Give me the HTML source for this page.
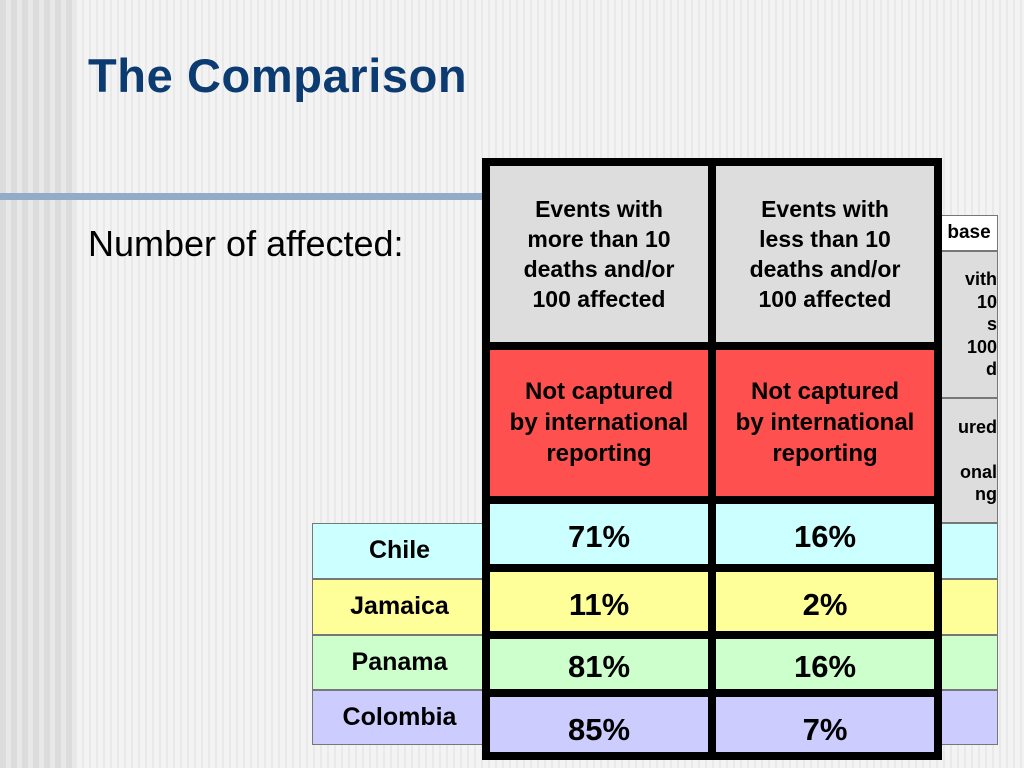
<!DOCTYPE html>
<html><head><meta charset="utf-8"><style>
body{margin:0;width:1024px;height:768px;overflow:hidden;position:relative;font-family:"Liberation Sans",sans-serif;
background:repeating-linear-gradient(90deg,#f3f3f3 0,#f3f3f3 5px,#e9e9e9 5px,#e9e9e9 7px);}
.a{position:absolute;box-sizing:border-box;}
.c{display:flex;align-items:center;justify-content:center;text-align:center;font-weight:bold;color:#000;}
</style></head><body>
<div class="a" style="left:0;top:0;width:75px;height:768px;background:repeating-linear-gradient(90deg,#dcdcdc 0,#dcdcdc 6px,#e8e8e8 6px,#e8e8e8 11px);"></div>
<div class="a" style="left:88px;top:48px;font-size:47px;font-weight:bold;color:#0b3b70;letter-spacing:0.6px;">The Comparison</div>
<div class="a" style="left:0;top:193px;width:490px;height:7px;background:#92acc8;"></div>
<div class="a" style="left:88px;top:223px;font-size:36px;color:#000;">Number of affected:</div>

<div id="back"></div>
<div id="front"></div>

<script>
const countries=["Chile","Jamaica","Panama","Colombia"];
const moreThan10=["71%","11%","81%","85%"];
const lessThan10=["16%","2%","16%","7%"];
const rowColors=["#ccffff","#ffff99","#ccffcc","#ccccff"];

const back=document.getElementById('back');
const front=document.getElementById('front');
function box(parent,x,y,w,h,bg,html,fs,name){
  const d=document.createElement('div');
  d.className='a c';
  d.style.cssText=`left:${x}px;top:${y}px;width:${w}px;height:${h}px;background:${bg};font-size:${fs}px;line-height:1.25;`;
  d.innerHTML=html;
  
  
  parent.appendChild(d);return d;
}
// back table right header fragments
box(back,940,215,58,36,"#fff","base",19,"back-header-database").style.border="1px solid #777";
const g1=box(back,940,251,58,147,"#ddd","vith<br>10<br>s<br>100<br>d",18,"back-header-events");g1.style.border="1px solid #777";g1.style.justifyContent="flex-end";g1.style.textAlign="right";
const g2=box(back,940,398,58,125,"#ddd","ured<br><br>onal<br>ng",18,"back-header-captured");g2.style.border="1px solid #777";g2.style.justifyContent="flex-end";g2.style.textAlign="right";
const rowTops=[523,579,635,690], rowH=[56,56,55,55];
countries.forEach((c,i)=>{
  const l=box(back,312,rowTops[i],175,rowH[i],rowColors[i],c,25,"row-label-"+c.toLowerCase());
  l.style.border="1px solid #777";
  const r=box(back,930,rowTops[i],68,rowH[i],rowColors[i],"",20,"back-row-"+c.toLowerCase());
  r.style.border="1px solid #777";
});
// front frame
const f=box(front,482,158,460,602,"#000","",10,"table-frame");
const colX=[490,716], colW=218;
const hdr=["Events with<br>more than 10<br>deaths and/or<br>100 affected","Events with<br>less than 10<br>deaths and/or<br>100 affected"];
const fTops=[504,572,639,697], fH=[60,59,50,55];
[0,1].forEach(j=>{
  const h=box(front,colX[j],166,colW,176,"#dddddd",hdr[j],23,"column-header-"+(j+1));
  h.style.alignItems="flex-start";h.style.paddingTop="28px";h.style.lineHeight="30px";
  const r=box(front,colX[j],350,colW,146,"#ff5050","Not captured<br>by international<br>reporting",24,"not-captured-label-"+(j+1));
  r.style.lineHeight="31px";r.style.alignItems="flex-start";r.style.paddingTop="26px";
  const vals=j==0?moreThan10:lessThan10;
  vals.forEach((v,i)=>{
    const cell=box(front,colX[j],fTops[i],colW,fH[i],rowColors[i],v,31,"value-"+countries[i].toLowerCase()+"-"+(j+1));
    if(i<2){cell.style.alignItems="flex-start";cell.style.paddingTop="14px";}
    else{cell.style.alignItems="flex-end";cell.style.paddingBottom="2px";}
  });
});
</script>
</body></html>
